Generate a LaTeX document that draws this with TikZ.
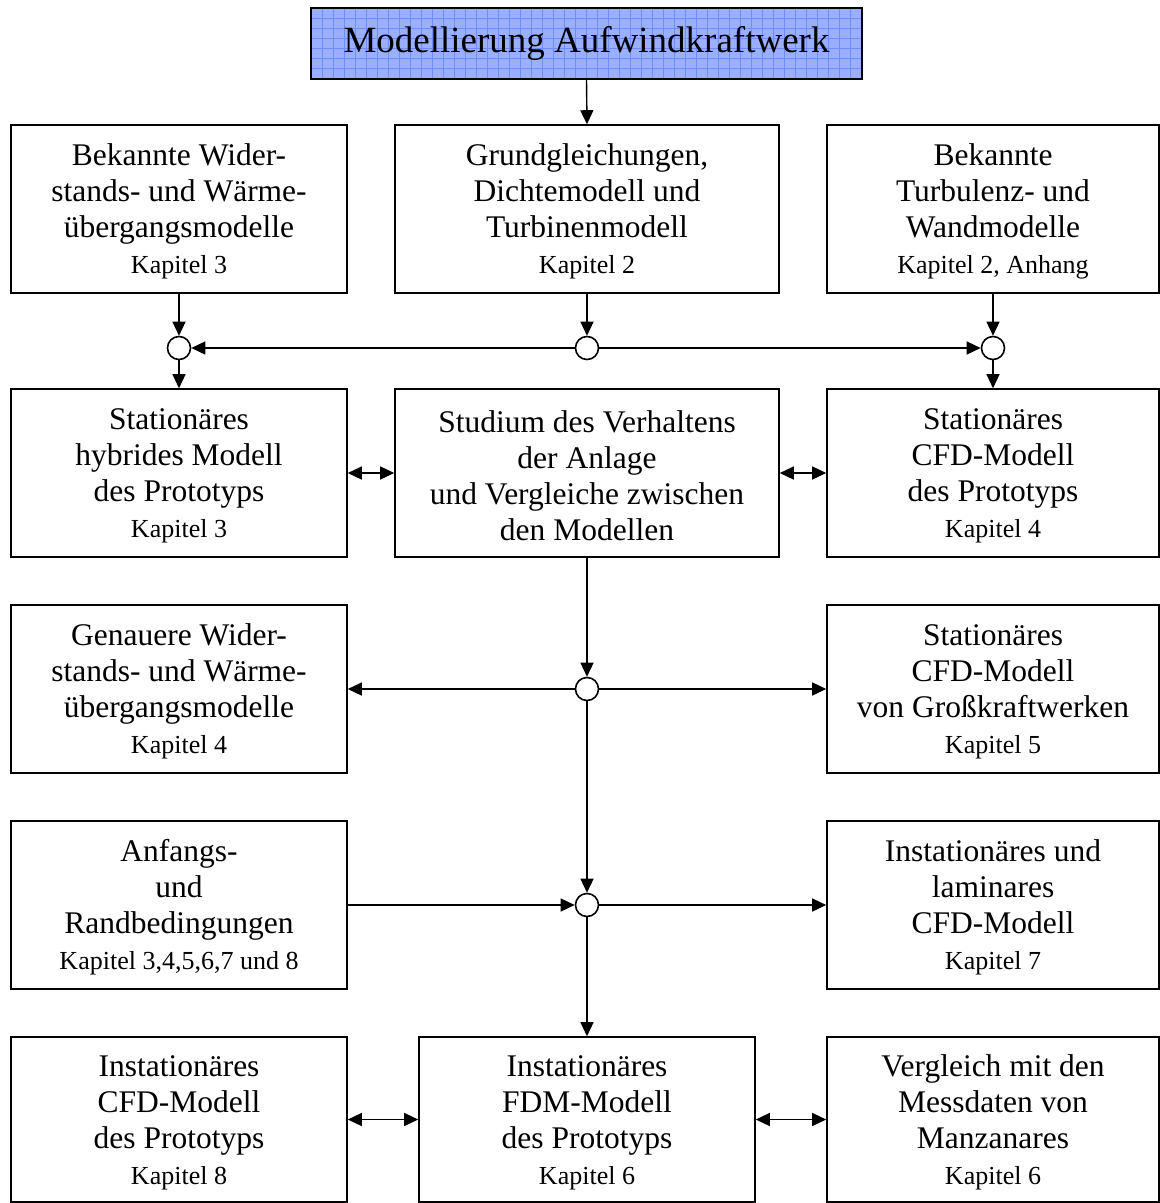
\documentclass[tikz,border=0pt]{standalone}
\usepackage{fontspec}
\setmainfont{Liberation Serif}
\usetikzlibrary{arrows.meta}
\definecolor{titlefill}{RGB}{155,175,255}
\definecolor{gridcol}{RGB}{110,140,250}
\newcommand{\kap}[1]{{\fontsize{26}{36}\selectfont #1}}
\newcommand{\topgap}{\rule{0pt}{27pt}}
\tikzset{
  box/.style={draw, line width=1.6pt, minimum height=168pt, inner sep=0pt, align=flush center,
    font=\fontsize{31.5}{36}\selectfont},
  junc/.style={circle, draw, fill=white, line width=1.6pt, minimum size=23pt, inner sep=0pt},
  arr/.style={line width=1.4pt, -{Triangle[length=14pt,width=13pt]}},
  dbl/.style={line width=1.4pt, {Triangle[length=14pt,width=13pt]}-{Triangle[length=14pt,width=13pt]}}
}
\begin{document}
\begin{tikzpicture}[x=1pt,y=-1pt]
\useasboundingbox (0,0) rectangle (1160,1203);
% title
\fill[titlefill] (311,8) rectangle (862,79);
\begin{scope}[gridcol, line width=0.5pt]
\foreach \gx in {322,333,...,856} \draw (\gx,8) -- (\gx,79);
\foreach \gy in {18,28,...,75} \draw (311,\gy) -- (862,\gy);
\end{scope}
\node[draw, line width=1.6pt, minimum width=551pt, minimum height=71pt, inner sep=0pt,
  font=\fontsize{37}{44}\selectfont] (title) at (586.5,43.5) {Modellierung Aufwindkraftwerk};
% row 1
\node[box, minimum width=336pt, text width=330pt] (b11) at (179,209)
  {\topgap Bekannte Wider-\\stands- und Wärme-\\übergangsmodelle\\\kap{Kapitel 3}};
\node[box, minimum width=384pt, text width=378pt] (b12) at (587,209)
  {\topgap Grundgleichungen,\\Dichtemodell und\\Turbinenmodell\\\kap{Kapitel 2}};
\node[box, minimum width=332pt, text width=326pt] (b13) at (993,209)
  {\topgap Bekannte\\Turbulenz- und\\Wandmodelle\\\kap{Kapitel 2, Anhang}};
% junctions row 1
\node[junc] (c1) at (179,348) {};
\node[junc] (c2) at (587,348) {};
\node[junc] (c3) at (993,348) {};
% row 2
\node[box, minimum width=336pt, text width=330pt] (b21) at (179,473)
  {\topgap Stationäres\\hybrides Modell\\des Prototyps\\\kap{Kapitel 3}};
\node[box, minimum width=384pt, text width=378pt] (b22) at (587,473)
  {\topgap Studium des Verhaltens\\der Anlage\\und Vergleiche zwischen\\den Modellen};
\node[box, minimum width=332pt, text width=326pt] (b23) at (993,473)
  {\topgap Stationäres\\CFD-Modell\\des Prototyps\\\kap{Kapitel 4}};
% row 3
\node[junc] (c4) at (587,689) {};
\node[box, minimum width=336pt, text width=330pt] (b31) at (179,689)
  {\topgap Genauere Wider-\\stands- und Wärme-\\übergangsmodelle\\\kap{Kapitel 4}};
\node[box, minimum width=332pt, text width=326pt] (b33) at (993,689)
  {\topgap Stationäres\\CFD-Modell\\von Großkraftwerken\\\kap{Kapitel 5}};
% row 4
\node[junc] (c5) at (587,905) {};
\node[box, minimum width=336pt, text width=330pt] (b41) at (179,905)
  {\topgap Anfangs-\\und\\Randbedingungen\\\kap{Kapitel 3,4,5,6,7 und 8}};
\node[box, minimum width=332pt, text width=326pt] (b43) at (993,905)
  {\topgap Instationäres und\\laminares\\CFD-Modell\\\kap{Kapitel 7}};
% row 5
\node[box, minimum width=336pt, text width=330pt, minimum height=165pt] (b51) at (179,1119.5)
  {\topgap Instationäres\\CFD-Modell\\des Prototyps\\\kap{Kapitel 8}};
\node[box, minimum width=336pt, text width=330pt, minimum height=165pt] (b52) at (587,1119.5)
  {\topgap Instationäres\\FDM-Modell\\des Prototyps\\\kap{Kapitel 6}};
\node[box, minimum width=332pt, text width=326pt, minimum height=165pt] (b53) at (993,1119.5)
  {\topgap Vergleich mit den\\Messdaten von\\Manzanares\\\kap{Kapitel 6}};
% connectors
\draw[arr] (title.south) -- (b12.north);
\draw[arr] (b11.south) -- (c1.north);
\draw[arr] (b12.south) -- (c2.north);
\draw[arr] (b13.south) -- (c3.north);
\draw[arr] (c2.west) -- (c1.east);
\draw[arr] (c2.east) -- (c3.west);
\draw[arr] (c1.south) -- (b21.north);
\draw[arr] (c3.south) -- (b23.north);
\draw[dbl] (b21.east) -- (b22.west);
\draw[dbl] (b22.east) -- (b23.west);
\draw[arr] (b22.south) -- (c4.north);
\draw[arr] (c4.west) -- (b31.east);
\draw[arr] (c4.east) -- (b33.west);
\draw[arr] (c4.south) -- (c5.north);
\draw[arr] (b41.east) -- (c5.west);
\draw[arr] (c5.east) -- (b43.west);
\draw[arr] (c5.south) -- (b52.north);
\draw[dbl] (b51.east) -- (b52.west);
\draw[dbl] (b52.east) -- (b53.west);
\end{tikzpicture}
\end{document}
